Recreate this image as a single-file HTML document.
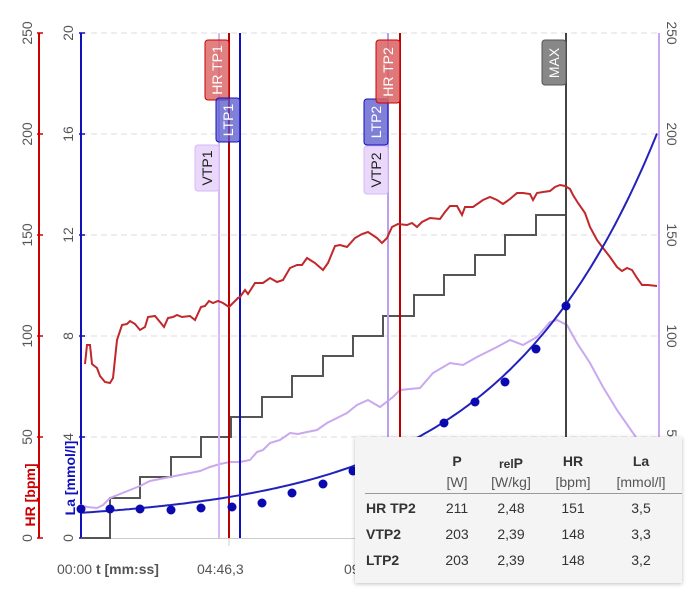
<!DOCTYPE html>
<html><head><meta charset="utf-8"><style>
body{margin:0;background:#fff;width:700px;height:600px;overflow:hidden;font-family:"Liberation Sans",sans-serif}
.tbl{position:absolute;left:355px;top:437px;width:327px;height:146px;background:#f4f4f4;box-shadow:0 1px 4px rgba(0,0,0,.25);font-size:14px;color:#333}
.tbl div{position:absolute;text-align:center;transform:translateX(-50%)}
</style></head><body>
<svg width="700" height="600" style="position:absolute;left:0;top:0" font-family="Liberation Sans, sans-serif">
<g stroke="#ddd" stroke-dasharray="6,4" stroke-width="1">
<line x1="81" y1="33" x2="659" y2="33"/><line x1="81" y1="134" x2="659" y2="134"/><line x1="81" y1="235" x2="659" y2="235"/><line x1="81" y1="336" x2="659" y2="336"/><line x1="81" y1="437" x2="659" y2="437"/>
</g>
<line x1="81" y1="538.5" x2="659" y2="538.5" stroke="#ccc"/>
<line x1="229" y1="538" x2="229" y2="546" stroke="#ccc"/>
<!-- axes -->
<line x1="39" y1="33" x2="39" y2="538" stroke="#c00" stroke-width="2"/>
<g stroke="#c00" stroke-width="1.5"><line x1="37" y1="33" x2="43" y2="33"/><line x1="37" y1="134" x2="43" y2="134"/><line x1="37" y1="235" x2="43" y2="235"/><line x1="37" y1="336" x2="43" y2="336"/><line x1="37" y1="437" x2="43" y2="437"/><line x1="37" y1="538" x2="43" y2="538"/></g>
<line x1="81" y1="33" x2="81" y2="538" stroke="#1111bb" stroke-width="2"/>
<g stroke="#1111bb" stroke-width="1.5"><line x1="79" y1="33" x2="85" y2="33"/><line x1="79" y1="134" x2="85" y2="134"/><line x1="79" y1="235" x2="85" y2="235"/><line x1="79" y1="336" x2="85" y2="336"/><line x1="79" y1="437" x2="85" y2="437"/><line x1="79" y1="538" x2="85" y2="538"/></g>
<line x1="659" y1="33" x2="659" y2="538" stroke="#c9a8f0" stroke-width="2"/>
<g font-size="14" fill="#555" text-anchor="middle">
<text transform="translate(32,33) rotate(-90)">250</text><text transform="translate(32,134) rotate(-90)">200</text><text transform="translate(32,235) rotate(-90)">150</text><text transform="translate(32,336) rotate(-90)">100</text><text transform="translate(32,437) rotate(-90)">50</text><text transform="translate(32,538) rotate(-90)">0</text>
<text transform="translate(73,33) rotate(-90)">20</text><text transform="translate(73,134) rotate(-90)">16</text><text transform="translate(73,235) rotate(-90)">12</text><text transform="translate(73,336) rotate(-90)">8</text><text transform="translate(73,437) rotate(-90)">4</text><text transform="translate(73,538) rotate(-90)">0</text>
<text transform="translate(667,33) rotate(90)">250</text><text transform="translate(667,134) rotate(90)">200</text><text transform="translate(667,235) rotate(90)">150</text><text transform="translate(667,336) rotate(90)">100</text><text transform="translate(667,437) rotate(90)">50</text>
</g>
<text transform="translate(35,495) rotate(-90)" font-size="14" font-weight="bold" fill="#c00" text-anchor="middle">HR [bpm]</text>
<text transform="translate(75,478) rotate(-90)" font-size="14" font-weight="bold" fill="#1111bb" text-anchor="middle">La [mmol/l]</text>
<text x="57" y="574" font-size="14" fill="#555">00:00 <tspan font-weight="bold">t [mm:ss]</tspan></text>
<text x="197" y="574" font-size="14" fill="#555">04:46,3</text>
<text x="344" y="574" font-size="14" fill="#555">09</text>
<!-- power steps -->
<polyline fill="none" stroke="#555" stroke-width="2" points="81,538 110,538 110,498 140,498 140,477 171,477 171,457 201,457 201,437 231,437 231,417 262,417 262,397 292,397 292,376 323,376 323,356 353,356 353,336 383,336 383,316 414,316 414,295 444,295 444,275 475,275 475,255 505,255 505,235 536,235 536,215 566,215"/>
<!-- lavender -->
<polyline fill="none" stroke="#c9a8f0" stroke-width="2" points="80,505 87,507 97,508 103,505 110,498 120,494 130,490 140,486 150,481 160,479 170,477 180,475 190,473 200,471 210,467 220,464 230,462 240,462 250,460 257,452 263,450 270,443 280,440 290,433 298,434 307,432 317,430 327,423 337,418 347,413 357,405 368,400 380,407 393,397 400,390 420,388 433,373 450,363 463,365 477,357 497,347 510,340 523,345 537,337 550,322 557,320 567,325 577,343 590,363 603,387 617,410 633,433 645,450"/>
<!-- vertical lines -->
<line x1="219" y1="33" x2="219" y2="538" stroke="#d6b8f5" stroke-width="2"/>
<line x1="229" y1="33" x2="229" y2="538" stroke="#b00" stroke-width="2"/>
<line x1="240" y1="33" x2="240" y2="538" stroke="#1111bb" stroke-width="2"/>
<line x1="388" y1="33" x2="388" y2="538" stroke="#b9a0f0" stroke-width="2"/>
<line x1="400" y1="33" x2="400" y2="538" stroke="#b00" stroke-width="2"/>
<line x1="566" y1="33" x2="566" y2="538" stroke="#444" stroke-width="2"/>
<!-- HR -->
<polyline fill="none" stroke="#c0282c" stroke-width="2" points="85,364 87,345 90,345 92,364 97,368 100,376 105,382 110,383 113,378 117,340 122,325 127,324 130,321 135,324 140,330 145,327 148,317 155,316 160,322 164,327 168,318 173,317 177,315 182,317 190,316 195,320 201,307 205,306 209,301 213,303 218,301 223,303 229,307 233,303 238,298 240,297 245,290 248,294 255,283 263,283 270,278 277,282 283,280 290,268 297,265 302,265 307,258 315,263 323,270 328,263 335,246 340,245 347,247 355,238 362,234 368,232 377,238 382,243 387,238 392,227 398,224 407,225 412,223 417,227 422,222 430,218 440,219 445,212 450,206 457,206 462,215 465,207 473,207 483,200 490,197 497,200 503,204 510,199 517,193 523,193 530,194 533,200 537,193 543,192 550,191 555,187 560,185 565,186 570,189 573,195 578,203 585,213 590,227 597,240 603,248 610,257 617,267 622,271 627,268 632,270 637,278 642,285 648,285 657,286"/>
<!-- La curve -->
<path fill="none" stroke="#2222bb" stroke-width="2" d="M81,513 L110,511.3 L140,509.3 L171,506.8 L201,503.6 L231,499.6 L262,494.5 L292,488 L323,480 L353,469.5 L383,456.5 L414,440 L444,419.5 L475,393.5 L505,361 L536,319 L566,266 L596,200 L627,117 L657,13" transform="" opacity="0"/>
<polyline fill="none" stroke="#2222bb" stroke-width="2" points="81,513 110,511.7 140,510.1 171,508.1 201,505.5 231,502.2 262,498 292,492.7 323,485.9 353,477.3 383,466.3 414,452.1 444,434.5 475,411.6 505,382.7 536,345.6 566,299 596,240 627,164 642,123 657,79" id="lac" opacity="0"/>
<path id="la" fill="none" stroke="#2222bb" stroke-width="2"/>
<g fill="#0a0ab0">
<circle cx="81" cy="509" r="4.5"/><circle cx="110" cy="509" r="4.5"/><circle cx="140" cy="509" r="4.5"/><circle cx="171" cy="510" r="4.5"/><circle cx="201" cy="508" r="4.5"/><circle cx="232" cy="507" r="4.5"/><circle cx="262" cy="503" r="4.5"/><circle cx="292" cy="493" r="4.5"/><circle cx="323" cy="484" r="4.5"/><circle cx="353" cy="471" r="4.5"/><circle cx="383" cy="462" r="4.5"/><circle cx="414" cy="446" r="4.5"/><circle cx="444" cy="423" r="4.5"/><circle cx="475" cy="402" r="4.5"/><circle cx="505" cy="382" r="4.5"/><circle cx="536" cy="349" r="4.5"/><circle cx="566" cy="306" r="4.5"/>
</g>
<!-- labels -->
<g font-size="14" text-anchor="middle">
<rect x="205" y="40" width="24" height="60" rx="3" fill="#d96060" fill-opacity=".8" stroke="#c00"/>
<text transform="translate(222,70) rotate(-90)" fill="#fff">HR TP1</text>
<rect x="216" y="98" width="24" height="44" rx="3" fill="#5555cc" fill-opacity=".75" stroke="#1111bb"/>
<text transform="translate(233,120) rotate(-90)" fill="#fff">LTP1</text>
<rect x="195" y="145" width="24" height="46" rx="3" fill="#ead8fa" stroke="#d6b8f5"/>
<text transform="translate(212,168) rotate(-90)" fill="#222">VTP1</text>
<rect x="364" y="99" width="24" height="46" rx="3" fill="#5555cc" fill-opacity=".75" stroke="#1111bb"/>
<text transform="translate(381,122) rotate(-90)" fill="#fff">LTP2</text>
<rect x="364" y="146" width="24" height="48" rx="3" fill="#ead8fa" stroke="#d6b8f5"/>
<text transform="translate(381,170) rotate(-90)" fill="#222">VTP2</text>
<rect x="376" y="40" width="24" height="63" rx="3" fill="#d96060" fill-opacity=".85" stroke="#c00"/>
<text transform="translate(393,72) rotate(-90)" fill="#fff">HR TP2</text>
<rect x="542" y="40" width="24" height="45" rx="3" fill="#888" stroke="#555"/>
<text transform="translate(559,63) rotate(-90)" fill="#fff">MAX</text>
</g>
<script>
var d="";for(var x=81;x<=658;x+=3){var la=0.4*Math.exp(0.00634*(x-81))+0.6;var y=538-la*25.25;d+=(x==81?"M":"L")+x+","+y.toFixed(1);}document.getElementById("la").setAttribute("d",d);
</script>
</svg>
<div class="tbl">
<div style="left:102px;top:16px;font-weight:bold">P</div>
<div style="left:156px;top:18px;font-weight:bold"><span style="font-size:12px">rel</span>P</div>
<div style="left:218px;top:16px;font-weight:bold">HR</div>
<div style="left:286px;top:16px;font-weight:bold">La</div>
<div style="left:102px;top:37px;color:#555">[W]</div>
<div style="left:156px;top:37px;color:#555">[W/kg]</div>
<div style="left:218px;top:37px;color:#555">[bpm]</div>
<div style="left:286px;top:37px;color:#555">[mmol/l]</div>
<span style="position:absolute;left:10px;top:56px;width:317px;height:1px;background:#999"></span>
<span style="position:absolute;left:11px;top:63px;font-weight:bold">HR TP2</span>
<span style="position:absolute;left:11px;top:89px;font-weight:bold">VTP2</span>
<span style="position:absolute;left:11px;top:115px;font-weight:bold">LTP2</span>
<div style="left:102px;top:63px">211</div><div style="left:156px;top:63px">2,48</div><div style="left:218px;top:63px">151</div><div style="left:286px;top:63px">3,5</div>
<div style="left:102px;top:89px">203</div><div style="left:156px;top:89px">2,39</div><div style="left:218px;top:89px">148</div><div style="left:286px;top:89px">3,3</div>
<div style="left:102px;top:115px">203</div><div style="left:156px;top:115px">2,39</div><div style="left:218px;top:115px">148</div><div style="left:286px;top:115px">3,2</div>
</div>
</body></html>
